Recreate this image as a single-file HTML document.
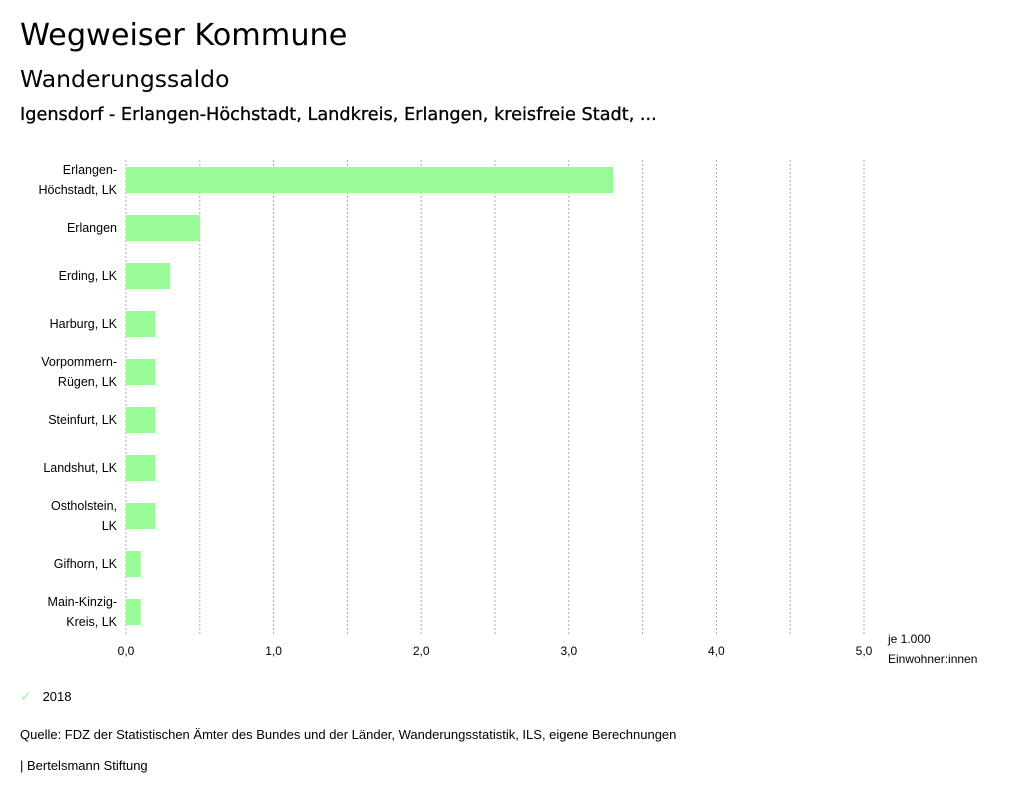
<!DOCTYPE html>
<html><head><meta charset="utf-8"><style>
body{margin:0;background:#fff;width:1024px;height:799px;overflow:hidden;font-family:"Liberation Sans",sans-serif;color:#000}
.t{position:absolute;white-space:nowrap}
</style></head><body>
<div class="t" style="left:20px;top:18px;font-family:'DejaVu Sans',sans-serif;font-size:30.3px">Wegweiser Kommune</div>
<div class="t" style="left:20px;top:65px;font-family:'DejaVu Sans',sans-serif;font-size:23.5px">Wanderungssaldo</div>
<div class="t" style="left:20px;top:105px;font-family:'DejaVu Sans',sans-serif;font-size:17.7px;-webkit-text-stroke:0.3px #000">Igensdorf - Erlangen-Höchstadt, Landkreis, Erlangen, kreisfreie Stadt, ...</div>
<svg id="chart" style="position:absolute;left:0;top:0" width="1024" height="799"></svg>
<div class="t" style="left:20px;top:688px;font-size:13px"><span style="color:#98fb98;font-size:14px">✓</span>&nbsp;&nbsp;&nbsp;2018</div>
<div class="t" style="left:20px;top:727px;font-size:13px">Quelle: FDZ der Statistischen Ämter des Bundes und der Länder, Wanderungsstatistik, ILS, eigene Berechnungen</div>
<div class="t" style="left:20px;top:758px;font-size:13px">| Bertelsmann Stiftung</div>
<script>
const categories=[["Erlangen-","Höchstadt, LK"],["Erlangen"],["Erding, LK"],["Harburg, LK"],["Vorpommern-","Rügen, LK"],["Steinfurt, LK"],["Landshut, LK"],["Ostholstein,","LK"],["Gifhorn, LK"],["Main-Kinzig-","Kreis, LK"]];
const values=[3.3,0.5,0.3,0.2,0.2,0.2,0.2,0.2,0.1,0.1];
const ticks=[0,1,2,3,4,5];
const tickLabels=["0,0","1,0","2,0","3,0","4,0","5,0"];
const NS="http://www.w3.org/2000/svg";
const svg=document.getElementById('chart');
const x=v=>126+v*147.6;
const y=i=>180+i*48;
function mk(t,a){const e=document.createElementNS(NS,t);for(const k in a)e.setAttribute(k,a[k]);svg.appendChild(e);return e;}
for(let g=0;g<=5;g+=0.5){
 const l=mk('line',{x1:x(g),x2:x(g),y1:160,y2:636,stroke:'#aaa','stroke-dasharray':'2,2','stroke-width':1});
 
 
}
ticks.forEach((t,i)=>{
 const e=mk('text',{x:x(t),y:655,'text-anchor':'middle','font-size':12,'font-family':'Liberation Sans, sans-serif'});
 e.textContent=tickLabels[i];
 
 
});
const u1=mk('text',{x:888,y:643,'font-size':12});u1.textContent='je 1.000';


const u2=mk('text',{x:888,y:663,'font-size':12});u2.textContent='Einwohner:innen';


values.forEach((v,i)=>{
 const r=mk('rect',{x:x(0),y:y(i)-13,width:x(v)-x(0),height:26,fill:'#98fb98'});
 
 
 const lines=categories[i];
 lines.forEach((s,j)=>{
  const ty=y(i)+4+(lines.length===2?(j===0?-10:10):0);
  const e=mk('text',{x:117,y:ty,'text-anchor':'end','font-size':12.5});
  e.textContent=s;
  
  
 });
});
</script>
</body></html>
